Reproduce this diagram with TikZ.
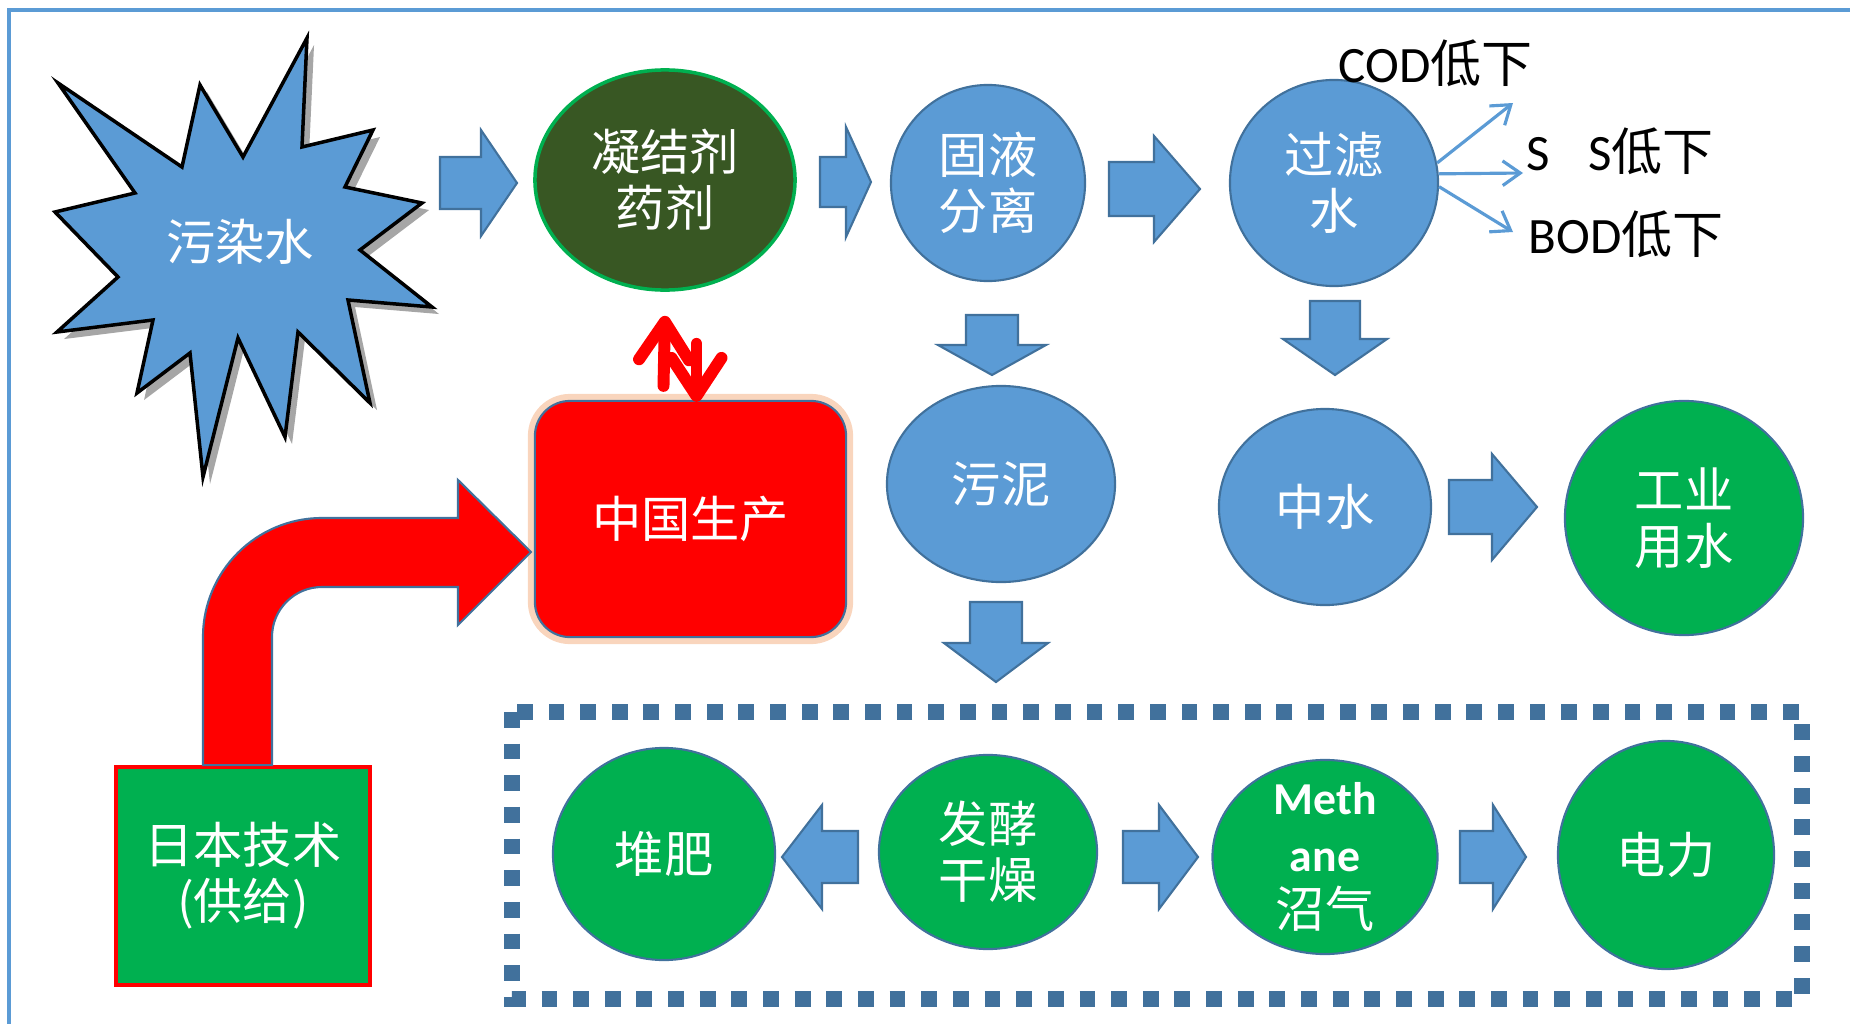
\documentclass[tikz,border=0pt]{standalone}
\usepackage{fontspec}
\setmainfont{Carlito}
\newfontfamily\cjk{Noto Sans CJK SC}
\usetikzlibrary{shapes.geometric,arrows.meta,positioning,calc,shadows}
\definecolor{fillblue}{RGB}{91,155,213}
\definecolor{lineblue}{RGB}{65,113,156}
\definecolor{leafgreen}{RGB}{0,176,80}
\definecolor{darkmoss}{RGB}{56,87,35}
\definecolor{glow}{RGB}{248,203,173}

% block arrow: tail point, angle, length, head length, shaft half width, head half width
\newcommand{\blkarrow}[6]{%
  \begin{scope}[shift={#1}, rotate=#2]
    \draw[blockarrow] (0,-#5) -- ({#3-#4},-#5) -- ({#3-#4},-#6) -- (#3,0)
      -- ({#3-#4},#6) -- ({#3-#4},#5) -- (0,#5) -- cycle;
  \end{scope}}

\begin{document}
\begin{tikzpicture}[
    x=0.01cm, y=0.01cm,
    bubble/.style={ellipse, draw=lineblue, line width=0.6pt, inner sep=0pt, align=center, text=white, font=\cjk\fontsize{14}{16}\selectfont},
    bluebub/.style={bubble, fill=fillblue},
    greenbub/.style={bubble, fill=leafgreen},
    blockarrow/.style={draw=lineblue, line width=0.6pt, fill=fillblue},
    thinarrow/.style={-{Straight Barb[length=5pt,width=7pt]}, draw=fillblue, line width=0.9pt},
    swaparrow/.style={-{Straight Barb[length=0.38cm,width=0.5cm,round]}, red, line width=3.4pt, line cap=round},
    lowlabel/.style={inner sep=0pt, font=\fontsize{14.5}{17}\selectfont},
    dotbox/.style={draw=lineblue, line width=4.5pt, dash pattern=on 4.5pt off 4.5pt}
]
\useasboundingbox (0,0) rectangle (1850,-1024);

% page frame
\draw[fillblue, line width=0.9pt] (9,-1024) -- (9,-10) -- (1850,-10);

% polluted water burst
\draw[fill=fillblue, draw=black, line width=1pt, line join=miter,
      drop shadow={shadow xshift=2pt, shadow yshift=-2pt, opacity=0.35, fill=black}]
  (58,-83) -- (182,-167) -- (200,-85) -- (243,-157) -- (307,-38) -- (302,-147)
  -- (373,-130) -- (345,-187) -- (422,-203) -- (360,-250) -- (432,-307) -- (348,-300)
  -- (370,-403) -- (298,-332) -- (285,-437) -- (238,-338) -- (203,-477) -- (190,-353)
  -- (137,-393) -- (153,-320) -- (57,-332) -- (118,-277) -- (55,-212) -- (135,-193) -- cycle;
\node[text=white, font=\cjk\fontsize{14}{16}\selectfont] (wuran) at (240,-242) {污染水};

% top row
\node[bubble, fill=darkmoss, draw=leafgreen, line width=1pt, minimum width=2.6cm, minimum height=2.2cm] (ning) at (665,-180) {凝结剂\\药剂};
\node[bluebub, minimum width=1.94cm, minimum height=1.96cm] (guye) at (988,-183) {固液\\分离};
\node[bluebub, minimum width=2.08cm, minimum height=2.06cm] (lvshui) at (1334,-183) {过滤\\水};

% middle row
\node[rectangle, rounded corners=0.35cm, fill=red, draw=lineblue, line width=0.6pt,
      minimum width=3.11cm, minimum height=2.36cm, text=white, font=\cjk\fontsize{14}{16}\selectfont,
      preaction={draw=glow, line width=4pt, opacity=0.8}] (china) at (690.5,-519) {中国生产};
\node[bluebub, minimum width=2.28cm, minimum height=1.96cm] (wuni) at (1001,-484) {污泥};
\node[bluebub, minimum width=2.12cm, minimum height=1.96cm] (zhongshui) at (1325,-507) {中水};
\node[greenbub, minimum width=2.38cm, minimum height=2.34cm] (gongye) at (1684,-518) {工业\\用水};

% japanese technology
\node[rectangle, draw=red, line width=1pt, fill=leafgreen, minimum width=2.54cm, minimum height=2.18cm,
      text=white, align=center, font=\cjk\fontsize{14}{16}\selectfont] (japan) at (243,-876) {日本技术\\(供给)};

% bottom row
\draw[dotbox] (512,-712) rectangle (1802,-999);
\node[greenbub, minimum width=2.22cm, minimum height=2.12cm] (duifei) at (664,-854) {堆肥};
\node[greenbub, minimum width=2.18cm, minimum height=1.94cm] (fajiao) at (988,-852) {发酵\\干燥};
\node[greenbub, minimum width=2.25cm, minimum height=1.94cm,
      label={[white, align=center, font=\fontsize{13}{16}\selectfont\bfseries]center:{Meth\\ane\\{\cjk\mdseries\fontsize{14}{16}\selectfont 沼气}}}] (methane) at (1325,-857) {};
\node[greenbub, minimum width=2.16cm, minimum height=2.28cm] (dianli) at (1666,-855) {电力};

% block arrows
\blkarrow{(440,-183)}{0}{77}{36}{26}{53}
\blkarrow{(820,-182)}{0}{51}{25}{25}{55}
\blkarrow{(1109,-189)}{0}{91}{46}{27}{53}
\blkarrow{(992,-315)}{-90}{60}{30}{26}{54}
\blkarrow{(1335,-301)}{-90}{74}{36}{25}{52}
\blkarrow{(996,-602)}{-90}{80}{39}{26}{52}
\blkarrow{(1449,-507)}{0}{88}{45}{27}{53}
\blkarrow{(858,-857)}{180}{76}{40}{26}{52}
\blkarrow{(1123,-857)}{0}{75}{39}{26}{52}
\blkarrow{(1460,-857)}{0}{66}{33}{26}{52}

% bent arrow japan -> china
\draw[fill=red, draw=lineblue, line width=0.6pt]
  ($(japan.north)+(-40,0)$) -- (203,-637) arc[start angle=180, end angle=90, radius=119]
  -- (458,-518) -- (458,-480) -- (531,-552) -- (458,-625) -- (458,-587) -- (322,-587)
  arc[start angle=90, end angle=180, radius=50] -- ($(japan.north)+(29,0)$) -- cycle;

% exchange arrows
\draw[swaparrow] ($(china.north)+(-27,14)$) -- ($(ning.south)+(0,-24)$);
\draw[swaparrow] ($(china.north)+(6,56)$) -- ($(china.north)+(6,-2)$);

% water quality
\coordinate (codtip) at (1513,-103);
\coordinate (sstip) at (1523,-173);
\coordinate (bodtip) at (1513,-232);
\draw[thinarrow] (lvshui.11) -- (codtip);
\draw[thinarrow] (lvshui.5) -- (sstip);
\draw[thinarrow] (lvshui.-2) -- (bodtip);
\node[lowlabel, anchor=base west] (cod) at (1338,-82) {COD{\cjk 低下}};
\node[lowlabel, anchor=base west] (ss) at (1526,-170) {S\hspace{0.75em}S{\cjk 低下}};
\node[lowlabel, anchor=base west] (bod) at (1528,-253) {BOD{\cjk 低下}};

\end{tikzpicture}
\end{document}
